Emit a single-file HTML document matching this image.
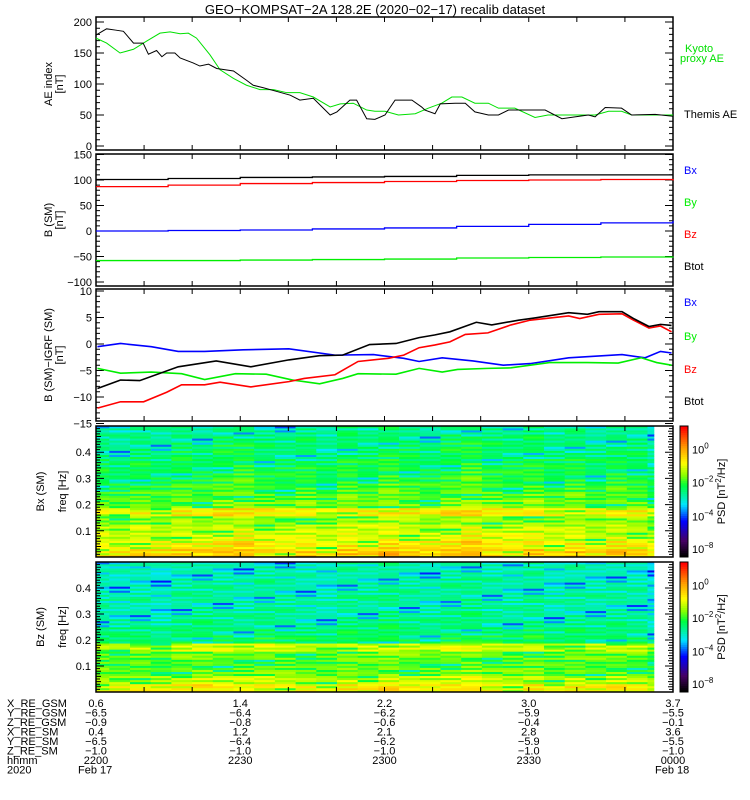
<!DOCTYPE html>
<html><head><meta charset="utf-8"><style>
html,body{margin:0;padding:0;background:#fff}
svg{display:block;font-family:"Liberation Sans",sans-serif}
</style></head><body>
<svg id="fig" width="750" height="800" viewBox="0 0 750 800" xmlns="http://www.w3.org/2000/svg">
<text x="375" y="14" text-anchor="middle" font-size="13">GEO−KOMPSAT−2A 128.2E (2020−02−17) recalib dataset</text>
<g id="root"></g>
</svg>
<script>
// ---- data ----
const aeThemisT=[0,2.2,4.0,5.7,7.8,9.8,10.9,12.6,13.7,14.7,16.4,17.5,20.2,21.6,23.4,25.1,28.6,31.3,32.7,34.8,37.6,40.4,42.4,45.2,48.7,50.1,52.8,54.2,56.3,58.0,60.1,62.2,65.7,67.7,68.4,70.5,71.6,74.7,76.8,78.8,81.6,83.7,85.8,88.5,93.4,96.9,99.6,102.4,103.8,105.9,109.3,111.4,116.3,120];
const aeThemisV=[179,189,187,185,166,166,148,154,144,150,150,142,134,129,132,125,121,106,98,94,88,82,74,77,50,55,74,74,44,43,50,74,74,63,58,52,68,69,69,55,50,50,58,58,58,44,47,50,47,62,61,50,51,48];
const aeKyotoT=[0,2.2,5.0,7.8,10.5,13.3,15.4,17.5,19.2,20.9,23.7,25.8,28.6,31.3,34.1,36.9,39.7,42.4,45.2,48.7,50.8,53.5,56.3,58.0,60.1,62.9,66.4,69.1,71.9,74.0,76.1,78.8,81.6,83.7,87.1,91.3,94.0,99.6,103.8,106.6,109.3,111.4,120];
const aeKyotoV=[174,166,150,156,169,182,184,181,182,174,147,123,109,98,91,91,86,86,79,63,68,69,58,56,56,50,52,61,69,79,79,69,69,61,61,46,50,50,50,56,56,50,50];
const bT=[0,15,30,45,60,75,90,105,120];
const bBtot=[101,103,105,106,107,109,110,110,110];
const bBz=[87,90,93,95,97,99,100,101,99];
const bBx=[0,1,2,4,6,9,13,16,20];
const bBy=[-58,-58,-57,-56,-55,-53,-52,-51,-50];
const dBxT=[0.3,5.1,11.5,17.1,22.6,30.6,40.1,49.7,57.7,64.0,67.2,72.0,78.4,84.7,90.3,98.3,109.4,114.2,117.4,119.7];
const dBxV=[-0.5,0.1,-0.5,-1.4,-1.4,-1.1,-0.9,-2.1,-2.0,-2.7,-3.3,-2.6,-3.2,-4.0,-3.7,-2.6,-2.0,-2.6,-1.4,-1.7];
const dBtT=[0.3,5.1,9.1,17.1,25.0,32.2,40.1,46.5,51.3,56.9,62.4,67.2,70.4,73.6,79.1,82.3,87.9,91.1,98.3,102.2,104.6,109.4,111.8,115.0,117.4,119.7];
const dBtV=[-8.4,-6.8,-6.9,-4.3,-3.2,-4.3,-3.0,-2.2,-2.1,-0.1,0.1,1.2,1.7,2.3,4.1,3.6,4.5,4.9,5.9,5.6,6.1,6.1,4.8,3.3,3.7,3.5];
const dBzT=[0.3,5.1,9.9,14.7,17.8,22.6,25.8,32.2,40.1,43.3,49.7,54.5,60.8,64.0,67.2,70.4,73.6,76.8,81.5,86.3,90.3,98.3,100.6,104.6,109.4,111.8,115.0,117.4,119.7];
const dBzV=[-12.1,-10.9,-10.9,-9.1,-7.7,-7.7,-7.2,-8.1,-7.1,-6.5,-5.8,-3.3,-2.7,-2.1,-0.7,-0.2,0.4,1.8,2.1,3.6,4.5,5.3,4.8,5.6,5.7,4.5,3.0,3.4,2.3];
const dByT=[0.3,5.1,11.5,17.8,22.6,29.0,35.4,40.9,46.5,51.3,54.5,62.4,67.2,72.0,75.2,81.5,86.3,94.3,102.2,108.6,113.4,116.6,119.7];
const dByV=[-4.6,-5.5,-5.3,-5.6,-6.7,-5.6,-5.7,-6.8,-7.5,-6.5,-5.6,-5.7,-4.6,-5.3,-4.8,-4.6,-4.5,-3.5,-3.5,-3.6,-2.6,-3.5,-4.0];
// spectrogram: band profiles (low->high freq, normalized colour level) and column offsets
const bxBands=[0.76,0.72,0.68,0.66,0.62,0.72,0.6,0.58,0.56,0.54,0.53,0.52,0.5,0.5,0.49,0.47];
const bzBands=[0.72,0.66,0.6,0.58,0.6,0.67,0.52,0.5,0.48,0.47,0.46,0.47,0.46,0.46,0.45,0.45];
const bxCols=[0,-0.02,0.01,-0.01,0.02,0,0.03,0.04,0.01,0,0.02,-0.01,0.03,0.01,0.04,0.02,0,0.03,0.05,0.02,0.01,0.03,0,0.02,-0.01,0.02,0.01,-0.03];
const bzCols=[0,-0.01,0,-0.02,0.01,0.02,0.01,0,0.02,0.01,0,-0.01,0.02,0.01,0.03,0.01,0,0.02,0.03,0.01,0,0.02,-0.01,0.01,0,0.01,0,-0.04];
const detail=[0.02,-0.04,0.04,-0.07,0.01,0.05,-0.03,-0.12,0.03,-0.05,0.04,0,-0.06,0.03,-0.02,0.05,-0.09,0.02,-0.03,0.04,-0.01,-0.16,0.03,0.01,-0.02,0.02,-0.04,0.03,0,-0.05,0.02];
const ephemCols=[["0.6","-6.5","-0.9","0.4","-6.5","-1.0","2200"],["1.4","-6.4","-0.8","1.2","-6.4","-1.0","2230"],["2.2","-6.2","-0.6","2.1","-6.2","-1.0","2300"],["3.0","-5.9","-0.4","2.8","-5.9","-1.0","2330"],["3.7","-5.5","-0.1","3.6","-5.5","-1.0","0000"]];
const ephemTimes=[0,30,60,90,120];
const ephemLabels=["X_RE_GSM","Y_RE_GSM","Z_RE_GSM","X_RE_SM","Y_RE_SM","Z_RE_SM","hhmm","2020"];

const NS="http://www.w3.org/2000/svg";
const root=document.getElementById('root');
function mk(tag,attrs,parent){const e=document.createElementNS(NS,tag);for(const k in attrs)e.setAttribute(k,attrs[k]);(parent||root).appendChild(e);return e;}
const X0=96,X1=673;
const xs=t=>X0+(t/120)*(X1-X0);

function panel(name){
  const g=mk('g',{});
  
  
  return {g};
}
function axes(p,top,bot,vmin,vmax,major,minor){
  const g=p.g;
  const fr=mk('rect',{x:X0,y:top,width:X1-X0,height:bot-top,fill:'none',stroke:'#000','stroke-width':1.5},g);
  
  
  let d='';
  for(let v=vmin;v<=vmax;v+=minor){const y=p.ys(v);const isMaj=v%major===0;const L=isMaj?8:4;d+=`M${X0} ${y}h${L}M${X1} ${y}h${-L}`;
    if(isMaj){const t=mk('text',{x:X0-4,y:y+4,'text-anchor':'end','font-size':11},g);t.textContent=v<0?'−'+(-v):v;
      
      }}
  for(let m=10;m<120;m+=10){const x=xs(m);d+=`M${x} ${top}v5M${x} ${bot}v-5`;}
  mk('path',{d,stroke:'#000',fill:'none'},g);
}
function line(p,T,V,color,name,w,step){
  let d='';
  for(let i=0;i<T.length;i++){
    const x=xs(T[i]),y=p.ys(V[i]);
    if(i===0)d+=`M${x} ${y}`;else if(step)d+=`H${x}V${y}`;else d+=`L${x} ${y}`;
  }
  if(step)d+=`H${xs(120)}`;
  const pe=mk('path',{d,stroke:color,'stroke-width':w||1,fill:'none'},p.g);
  
  
}
function label(txt,x,y,color,name,size){
  const t=mk('text',{x,y,fill:color,'font-size':size||11});t.textContent=txt;
  
  
  return t;
}
function ytitle(lines,cx,cy,name){
  const t=mk('text',{transform:`translate(${cx},${cy}) rotate(-90)`,'text-anchor':'middle','font-size':11});
  
  
  lines.forEach((s,i)=>{const ts=mk('tspan',{x:0,dy:i?11:0},t);ts.textContent=s;});
}

// Panel 1 AE
const p1=panel('ae-index-panel');
p1.ys=v=>146-v*0.62;
axes(p1,17,150,0,200,50,10);
line(p1,aeKyotoT,aeKyotoV,'#00e000','kyoto-ae-line',1);
line(p1,aeThemisT,aeThemisV,'#000','themis-ae-line',1);
ytitle(['AE index','[nT]'],52,84,'ae-y-axis-title');
label('Kyoto',685,52,'#00e000','legend-kyoto');
label('proxy AE',680,62,'#00e000','legend-proxy-ae');
label('Themis AE',684,118,'#000','legend-themis-ae');

// Panel 2 B(SM)
const p2=panel('b-sm-panel');
p2.ys=v=>231-v*0.51;
axes(p2,154,286,-100,150,50,10);
line(p2,bT,bBtot,'#000','btot-line',1.3,true);
line(p2,bT,bBz,'#f00','bz-line',1.3,true);
line(p2,bT,bBx,'#00f','bx-line',1.3,true);
line(p2,bT,bBy,'#0e0','by-line',1.3,true);
ytitle(['B (SM)','[nT]'],52,220,'b-sm-y-axis-title');
label('Bx',684,174,'#00f','legend-bx');
label('By',684,206,'#0e0','legend-by');
label('Bz',684,238,'#f00','legend-bz');
label('Btot',684,270,'#000','legend-btot');

// Panel 3 B - IGRF
const p3=panel('b-minus-igrf-panel');
p3.ys=v=>344-v*5.3;
axes(p3,289,421,-15,10,5,1);
line(p3,dBxT,dBxV,'#00f','dbx-line',1.6);
line(p3,dByT,dByV,'#0e0','dby-line',1.6);
line(p3,dBzT,dBzV,'#f00','dbz-line',1.6);
line(p3,dBtT,dBtV,'#000','dbtot-line',1.6);
ytitle(['B (SM)−IGRF (SM)','[nT]'],52,355,'b-igrf-y-axis-title');
label('Bx',684,306,'#00f','legend-dbx');
label('By',684,340,'#0e0','legend-dby');
label('Bz',684,373,'#f00','legend-dbz');
label('Btot',684,405,'#000','legend-dbtot');

// colormap
const stops=[[0,[0,0,0]],[0.12,[70,0,100]],[0.27,[0,0,255]],[0.4,[0,230,255]],[0.55,[0,255,60]],[0.63,[140,255,0]],[0.72,[255,255,0]],[0.84,[255,160,0]],[1,[255,0,0]]];
function cmap(t){t=Math.max(0,Math.min(1,t));for(let i=1;i<stops.length;i++){if(t<=stops[i][0]){const a=stops[i-1],b=stops[i];const f=(t-a[0])/(b[0]-a[0]);return 'rgb('+a[1].map((c,k)=>Math.round(c+(b[1][k]-c)*f)).join(',')+')';}}return 'rgb(255,0,0)';}

function spectro(name,top,bot,bands,cols,title){
  const g=mk('g',{});
  
  
  const rows=64;const fy=f=>bot-(f/0.5)*(bot-top);
  const colW=20.7,c0=109.3-colW;
  for(let c=0;c<cols.length;c++){
    const xa=Math.max(X0,c0+c*colW),xb=Math.min(654,c0+(c+1)*colW);if(xb<=xa)continue;
    for(let r=0;r<rows;r++){
      const v=bands[Math.floor(r/4)]+cols[c]+detail[(r*7+c*5)%detail.length];
      const y0=fy((r+1)/rows*0.5),y1=fy(r/rows*0.5);
      const cell=mk('rect',{x:xa,y:y0,width:xb-xa+0.3,height:y1-y0+0.3,fill:cmap(v)},g);
      
      
    }
  }
  const fr=mk('rect',{x:X0,y:top,width:X1-X0,height:bot-top,fill:'none',stroke:'#000','stroke-width':1.5},g);
  
  
  let d='';
  for(let i=1;i<50;i++){const y=fy(i*0.01);const L=i%10===0?8:(i%2?4:5);d+=`M${X0} ${y}h${L}M${X1} ${y}h${-L}`;}
  for(let i=1;i<=4;i++){const t=mk('text',{x:X0-5,y:fy(i/10)+4,'text-anchor':'end','font-size':11},g);t.textContent='0.'+i;
    
    }
  for(let m=10;m<120;m+=10){const x=xs(m);d+=`M${x} ${top}v5M${x} ${bot}v-5`;}
  mk('path',{d,stroke:'#000',fill:'none'},g);
  ytitle([title],44,(top+bot)/2,name+'-title');
  ytitle(['freq  [Hz]'],66,(top+bot)/2,name+'-freq-title');
  const cb=mk('g',{});
  
  
  const n=60;for(let i=0;i<n;i++){const y=bot-(i+1)*(bot-top)/n;mk('rect',{x:680,y,width:8,height:(bot-top)/n+0.5,fill:cmap(i/(n-1))},cb);}
  mk('rect',{x:680,y:top,width:8,height:bot-top,fill:'none',stroke:'#000'},cb);
  const exps=[['0',0.18],['−2',0.43],['−4',0.69],['−8',0.94]];
  exps.forEach(e=>{const t=mk('text',{x:692,y:top+e[1]*(bot-top)+4,'font-size':11},cb);t.textContent='10';const s=mk('tspan',{dy:-5,'font-size':8},t);s.textContent=e[0];
    
    });
  const pt=mk('text',{transform:`translate(725,${(top+bot)/2}) rotate(-90)`,'text-anchor':'middle','font-size':11},cb);
  pt.textContent='PSD  [nT';const sp=mk('tspan',{dy:-4,'font-size':8},pt);sp.textContent='2';const sp2=mk('tspan',{dy:4},pt);sp2.textContent='/Hz]';
  
  
}
spectro('bx-spectrogram',426,557,bxBands,bxCols,'Bx (SM)');
spectro('bz-spectrogram',562,692,bzBands,bzCols,'Bz (SM)');

// ephemeris table
const rowY=[707,716.5,726,735.5,745,754.5,764,773.5];
ephemLabels.forEach((s,i)=>label(s,7,rowY[i],'#000','ephem-row-label'));
ephemCols.forEach((col,j)=>{col.forEach((s,i)=>{const t=label(s.replace('-','−'),xs(ephemTimes[j]),rowY[i],'#000','ephem-value');t.setAttribute('text-anchor','middle');});});
label('Feb 17',78,rowY[7],'#000','date-start');
label('Feb 18',655,rowY[7],'#000','date-end');
</script>
</body></html>
